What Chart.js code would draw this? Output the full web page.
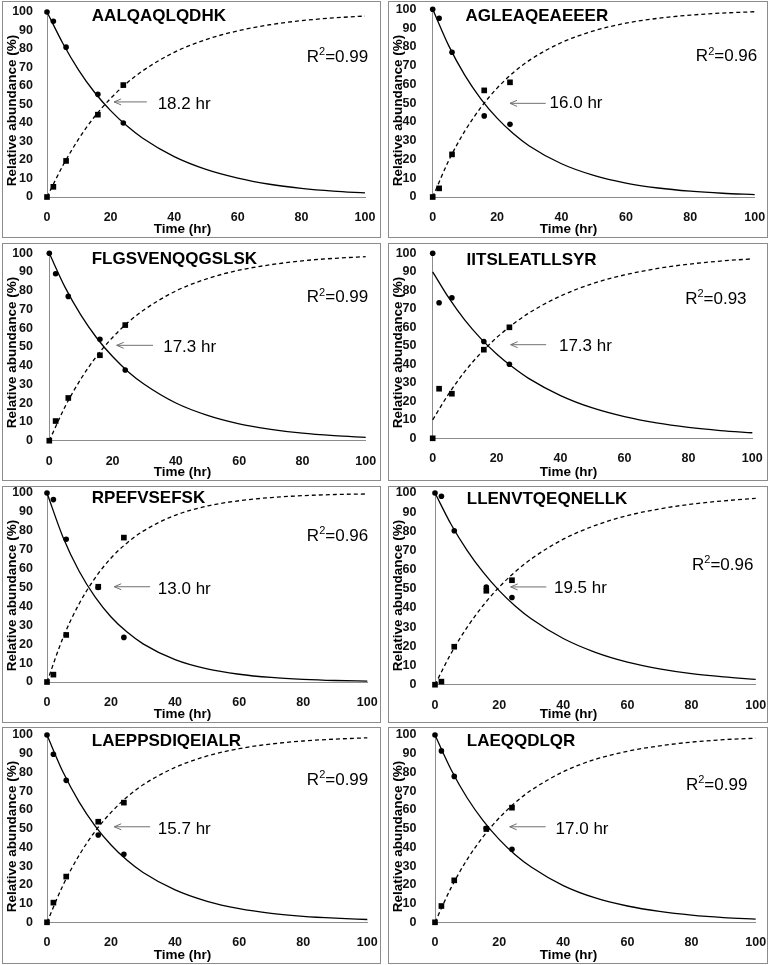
<!DOCTYPE html>
<html>
<head>
<meta charset="utf-8">
<script src="https://cdn.jsdelivr.net/npm/chart.js@4"></script>
<style>
  body { margin: 0; background: #fff; }
  .panel { position: absolute; border: 1px solid #8c8c8c; box-sizing: border-box; background: #fff; }
  .panel canvas { display: block; }
</style>
</head>
<body>
<script>
const peptides = ['AALQAQLQDHK', 'AGLEAQEAEEER', 'FLGSVENQQGSLSK', 'IITSLEATLLSYR',
                  'RPEFVSEFSK', 'LLENVTQEQNELLK', 'LAEPPSDIQEIALR', 'LAEQQDLQR'];
const halfLives = ['18.2 hr', '16.0 hr', '17.3 hr', '17.3 hr', '13.0 hr', '19.5 hr', '15.7 hr', '17.0 hr'];
const rSquared = ['0.99', '0.96', '0.99', '0.93', '0.96', '0.96', '0.99', '0.99'];

// measured time points (hr)
const sampleTimes = [0, 2, 6, 16, 24];
// circles: old (unlabelled) peptide, %
const oldPool = [
  [100, 95, 81, 55.5, 40],
  [100, 95.2, 77.1, 43.2, 38.7],
  [100, 89.1, 77, 54.1, 37.7],
  [100, 73.3, 76, 52.3, 40],
  [100, 96.5, 75.5, 50, 23.6],
  [100, 98.3, 80.3, 51, 45.5],
  [100, 89.7, 75.8, 46.6, 36.3],
  [100, 91.5, 77.9, 50.2, 39]
];
// squares: new (labelled) peptide, %
const newPool = [
  [0, 5.5, 19.5, 44.5, 60.5],
  [0, 4.6, 22.7, 56.8, 61.1],
  [0, 10.5, 22.8, 45.6, 61.7],
  [0, 26.8, 24.1, 47.9, 60],
  [0, 3.9, 24.9, 50.4, 76.4],
  [0, 1.6, 19.8, 49, 54.5],
  [0, 10.5, 24.4, 53.7, 63.9],
  [0, 8.7, 22.4, 49.8, 61.2]
];

// fitted curves
const fitTimes = [0, 5, 10, 15, 20, 25, 30, 40, 50, 60, 70, 80, 90, 100];
const decayFit = [
  [100, 83, 68.5, 56.5, 46.7, 38.6, 31.9, 21.8, 14.9, 10.2, 6.9, 4.7, 3.2, 2.2],
  [100, 80.5, 64.8, 52.2, 42, 33.8, 27.2, 17.7, 11.5, 7.4, 4.8, 3.1, 2, 1.3],
  [100, 81.8, 67, 54.8, 44.9, 36.7, 30.1, 20.1, 13.5, 9, 6.1, 4, 2.7, 1.8],
  [90, 76, 64, 54, 45.6, 38.5, 32.4, 23.1, 16.4, 11.7, 8.3, 5.9, 4.2, 3],
  [100, 76.6, 58.7, 45, 34.4, 26.4, 20.2, 11.8, 6.9, 4.1, 2.4, 1.4, 0.8, 0.5],
  [100, 83.7, 70.1, 58.7, 49.1, 41.1, 34.4, 24.1, 16.9, 11.8, 8.3, 5.8, 4.1, 2.8],
  [100, 80.2, 64.3, 51.5, 41.3, 33.1, 26.6, 17.3, 11.2, 7.3, 4.8, 3.2, 2.2, 1.5],
  [100, 81.6, 66.5, 54.3, 44.3, 36.1, 29.5, 19.6, 13, 8.7, 5.8, 3.8, 2.5, 1.7]
];
const riseFit = [
  [0, 17, 31.5, 43.5, 53.3, 61.4, 68.1, 78.2, 85.1, 89.8, 93.1, 95.3, 96.8, 97.8],
  [0, 19.5, 35.2, 47.8, 58, 66.2, 72.8, 82.3, 88.5, 92.6, 95.2, 96.9, 98, 98.7],
  [0, 18.2, 33, 45.2, 55.1, 63.3, 69.9, 79.9, 86.5, 91, 93.9, 96, 97.3, 98.2],
  [10, 24, 36, 46, 54.4, 61.5, 67.6, 76.9, 83.6, 88.3, 91.7, 94.1, 95.8, 97],
  [0, 23.4, 41.3, 55, 65.6, 73.6, 79.8, 88.2, 93.1, 95.9, 97.6, 98.6, 99.2, 99.5],
  [0, 16.3, 29.9, 41.3, 50.9, 58.9, 65.6, 75.9, 83.1, 88.2, 91.7, 94.2, 95.9, 97.2],
  [0, 19.8, 35.7, 48.5, 58.7, 66.9, 73.4, 82.7, 88.8, 92.7, 95.2, 96.8, 97.8, 98.5],
  [0, 18.4, 33.5, 45.7, 55.7, 63.9, 70.5, 80.4, 87, 91.3, 94.2, 96.2, 97.5, 98.3]
];

// page layout (px)
const cols = [{ left: 2, width: 379 }, { left: 388, width: 380 }];
const rows = [{ top: 1, height: 237 }, { top: 243, height: 238 }, { top: 486, height: 237 }, { top: 727, height: 237 }];
// plot area of each panel on the page: left, top, right, bottom
const plotBoxes = [
  [47, 12, 365, 197], [432.7, 9.3, 754.7, 197],
  [49.3, 253.3, 365.7, 440.7], [432.7, 253.3, 752.3, 438.3],
  [47, 493, 367.3, 682], [435, 493, 755.7, 684.7],
  [47, 735, 367.3, 922.3], [435, 735, 755.7, 922.3]
];
// text/arrow anchors in data units: title x,y | R2 right x,y | arrow tip x, tail x, y | label x,y
const notePos = [
  [14.1, 97.5, 101, 75.7, 21.1, 31.4, 51.4, 34.8, 50.3],
  [10.2, 96.4, 100.8, 74.7, 24.0, 35.1, 49.9, 36.3, 49.7],
  [13.4, 97.0, 100.8, 76.3, 21.3, 32.8, 50.9, 36.0, 49.8],
  [10.6, 96.4, 98.2, 75.1, 24.4, 35.5, 50.6, 39.5, 49.9],
  [14.0, 97.0, 100.3, 77.1, 21.0, 32.2, 50.4, 34.6, 49.2],
  [9.9, 96.9, 99.3, 62.3, 23.6, 34.7, 51.0, 37.1, 50.3],
  [14.0, 96.4, 100.3, 76.0, 21.0, 32.2, 51.0, 34.6, 49.7],
  [9.9, 96.8, 97.4, 73.3, 23.3, 34.5, 51.0, 37.6, 49.7]
];

const FONT = "'Liberation Sans', Arial, sans-serif";
const AXIS_GRAY = '#8c8c8c';

function toPoints(xs, ys) {
  return xs.map((x, k) => ({ x, y: ys[k] }));
}

const notesPlugin = {
  id: 'notes',
  afterDraw(chart, args, opts) {
    const i = opts.index;
    const { ctx, chartArea, scales: { x, y } } = chart;
    const [tx, ty, rx, ry, tipX, tailX, ay, lx, ly] = notePos[i];
    ctx.save();
    ctx.fillStyle = '#000';
    ctx.textBaseline = 'middle';

    // axis titles
    ctx.font = 'bold 13.5px ' + FONT;
    ctx.textAlign = 'center';
    ctx.fillText('Time (hr)', 179.5, chart.height - 8);
    ctx.save();
    ctx.translate(9.5, 108.5);
    ctx.rotate(-Math.PI / 2);
    ctx.fillText('Relative abundance (%)', 0, 0);
    ctx.restore();

    // peptide name
    ctx.textAlign = 'left';
    ctx.font = 'bold 17px ' + FONT;
    ctx.fillText(peptides[i], x.getPixelForValue(tx), y.getPixelForValue(ty));

    // R squared, right aligned
    const big = '17px ' + FONT, small = '11px ' + FONT;
    ctx.font = big;
    const wR = ctx.measureText('R').width;
    const rest = '=' + rSquared[i];
    const wRest = ctx.measureText(rest).width;
    ctx.font = small;
    const w2 = ctx.measureText('2').width;
    let px = x.getPixelForValue(rx) - (wR + w2 + wRest);
    const py = y.getPixelForValue(ry);
    ctx.font = big;
    ctx.fillText('R', px, py);
    ctx.font = small;
    ctx.fillText('2', px + wR, py - 5);
    ctx.font = big;
    ctx.fillText(rest, px + wR + w2, py);

    // half-life arrow
    const x1 = x.getPixelForValue(tipX), x2 = x.getPixelForValue(tailX), yy = y.getPixelForValue(ay);
    ctx.strokeStyle = '#707070';
    ctx.lineWidth = 1;
    ctx.beginPath();
    ctx.moveTo(x2, yy);
    ctx.lineTo(x1, yy);
    ctx.moveTo(x1 + 7, yy - 3);
    ctx.lineTo(x1, yy);
    ctx.lineTo(x1 + 7, yy + 3);
    ctx.stroke();

    ctx.font = big;
    ctx.fillText(halfLives[i], x.getPixelForValue(lx), y.getPixelForValue(ly));
    ctx.restore();
  }
};

peptides.forEach((name, i) => {
  const col = cols[i % 2];
  const row = rows[Math.floor(i / 2)];
  const div = document.createElement('div');
  div.className = 'panel';
  div.style.left = col.left + 'px';
  div.style.top = row.top + 'px';
  div.style.width = col.width + 'px';
  div.style.height = row.height + 'px';
  const canvas = document.createElement('canvas');
  const W = col.width - 2, H = row.height - 2;
  canvas.width = W;
  canvas.height = H;
  div.appendChild(canvas);
  document.body.appendChild(div);

  const ox = col.left + 1, oy = row.top + 1;
  const [pl, pt, pr, pb] = plotBoxes[i];
  const yAxisWidth = pl - ox;
  const xAxisHeight = oy + H - pb;
  const labelEdge = i % 2 === 0 ? 30 : 27.5;
  const tickFont = { family: FONT, size: 12.5, weight: 'bold' };

  new Chart(canvas, {
    type: 'scatter',
    data: {
      datasets: [
        {
          data: toPoints(sampleTimes, oldPool[i]),
          pointStyle: 'circle',
          pointRadius: 2.8,
          backgroundColor: '#000',
          borderColor: '#000',
          borderWidth: 0,
          clip: false,
        },
        {
          data: toPoints(sampleTimes, newPool[i]),
          pointStyle: 'rect',
          pointRadius: 4,
          backgroundColor: '#000',
          borderColor: '#000',
          borderWidth: 0,
          clip: false,
        },
        {
          data: toPoints(fitTimes, decayFit[i]),
          showLine: true,
          pointRadius: 0,
          borderColor: '#000',
          borderWidth: 1.3,
          cubicInterpolationMode: 'monotone',
          clip: false,
        },
        {
          data: toPoints(fitTimes, riseFit[i]),
          showLine: true,
          pointRadius: 0,
          borderColor: '#000',
          borderWidth: 1.3,
          borderDash: [4, 3],
          cubicInterpolationMode: 'monotone',
          clip: false,
        },
      ],
    },
    options: {
      responsive: false,
      animation: false,
      events: [],
      layout: { padding: { left: 0, top: pt - oy, right: ox + W - pr, bottom: 0 } },
      scales: {
        x: {
          type: 'linear',
          min: 0,
          max: 100,
          ticks: { stepSize: 20, padding: 13, font: tickFont, color: '#111' },
          grid: { display: false, drawTicks: false },
          border: { color: AXIS_GRAY, width: 1 },
          afterFit(s) { s.height = xAxisHeight; s.paddingLeft = 0; s.paddingRight = 0; },
        },
        y: {
          type: 'linear',
          min: 0,
          max: 100,
          ticks: { stepSize: 10, padding: yAxisWidth - labelEdge, font: tickFont, color: '#111' },
          grid: { display: false, drawTicks: false },
          border: { color: AXIS_GRAY, width: 1 },
          afterFit(s) { s.width = yAxisWidth; s.paddingTop = 0; s.paddingBottom = 0; },
        },
      },
      plugins: {
        legend: { display: false },
        tooltip: { enabled: false },
        notes: { index: i },
      },
    },
    plugins: [notesPlugin],
  });
});
</script>
</body>
</html>
